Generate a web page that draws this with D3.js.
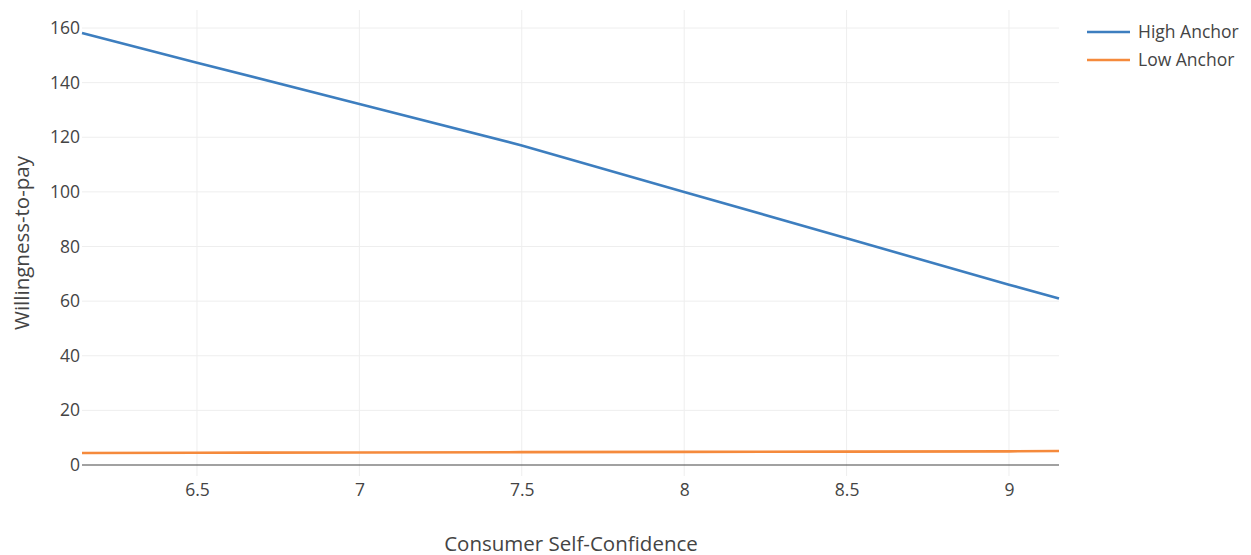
<!DOCTYPE html>
<html>
<head>
<meta charset="utf-8">
<script src="https://cdn.jsdelivr.net/npm/d3@7"></script>
<style>
  body { margin: 0; background: white; }
  text { font-family: "Open Sans", sans-serif; }
</style>
</head>
<body>
<div id="container"></div>
<script>
let w = 1251;
let h = 555;

// data
let confidence = [6.146, 6.5, 7, 7.5, 8, 8.5, 9, 9.154];
let highAnchor = [158.2, 147.3, 132.2, 117, 100, 83, 66, 61];
let lowAnchor = [4.4, 4.5, 4.6, 4.7, 4.8, 4.9, 5.0, 5.1];
let seriesNames = ["High Anchor", "Low Anchor"];
let seriesColors = ["#3d7ebf", "#f58a3c"];
let xTicks = [6.5, 7, 7.5, 8, 8.5, 9];
let yTicks = [0, 20, 40, 60, 80, 100, 120, 140, 160];

let plotLeft = 82, plotRight = 1059, plotTop = 10, plotBottom = 476;

let viz = d3.select("#container").append("svg")
    .attr("width", w)
    .attr("height", h)
    .style("background-color", "white");

let xScale = d3.scaleLinear().domain([6.146, 9.154]).range([plotLeft, plotRight]);
let yScale = d3.scaleLinear().domain([-4.03, 166.6]).range([plotBottom, plotTop]);

// grid lines
viz.append("g").selectAll("line").data(xTicks).enter().append("line")
    .attr("x1", d => xScale(d)).attr("x2", d => xScale(d))
    .attr("y1", plotTop).attr("y2", plotBottom)
    .attr("stroke", "#eeeeee").attr("stroke-width", 1);
viz.append("g").selectAll("line").data(yTicks.filter(d => d != 0)).enter().append("line")
    .attr("x1", plotLeft).attr("x2", plotRight)
    .attr("y1", d => yScale(d)).attr("y2", d => yScale(d))
    .attr("stroke", "#eeeeee").attr("stroke-width", 1);

// zero line
viz.append("line")
    .attr("x1", plotLeft).attr("x2", plotRight)
    .attr("y1", yScale(0)).attr("y2", yScale(0))
    .attr("stroke", "#444").attr("stroke-width", 1.2);

// axes (labels only)
let xAxis = d3.axisBottom(xScale).tickValues(xTicks).tickSize(0).tickPadding(8)
    .tickFormat(d3.format("~g"));
let xg = viz.append("g").attr("transform", `translate(0, ${plotBottom})`).call(xAxis);
let yAxis = d3.axisLeft(yScale).tickValues(yTicks).tickSize(0).tickPadding(2);
let yg = viz.append("g").attr("transform", `translate(${plotLeft}, 0)`).call(yAxis);
[xg, yg].forEach(g => {
  g.select(".domain").remove();
  g.selectAll("text")
    .attr("font-family", "'Open Sans', sans-serif")
    .attr("font-size", 17.5)
    .attr("fill", "#444");
});

// series lines
let lineMaker = d3.line().x((d, i) => xScale(confidence[i])).y(d => yScale(d));
[highAnchor, lowAnchor].forEach((s, i) => {
  viz.append("path")
    .datum(s)
    .attr("d", lineMaker)
    .attr("fill", "none")
    .attr("stroke", seriesColors[i])
    .attr("stroke-width", 2.6);
});

// axis titles
viz.append("text")
    .text("Consumer Self-Confidence")
    .attr("x", 571)
    .attr("y", 551)
    .attr("text-anchor", "middle")
    .attr("font-size", 20.5)
    .attr("fill", "#444");
viz.append("text")
    .text("Willingness-to-pay")
    .attr("transform", `translate(29, ${(plotTop + plotBottom) / 2}) rotate(-90)`)
    .attr("text-anchor", "middle")
    .attr("font-size", 20.5)
    .attr("fill", "#444");

// legend
let legend = viz.append("g").selectAll("g").data(seriesNames).enter().append("g")
    .attr("transform", (d, i) => `translate(1087, ${32 + i * 28})`);
legend.append("line")
    .attr("x1", 0).attr("x2", 43)
    .attr("stroke", (d, i) => seriesColors[i])
    .attr("stroke-width", 2.6);
legend.append("text")
    .text(d => d)
    .attr("x", 51)
    .attr("y", 6)
    .attr("font-size", 17.5)
    .attr("fill", "#444");
</script>
</body>
</html>
